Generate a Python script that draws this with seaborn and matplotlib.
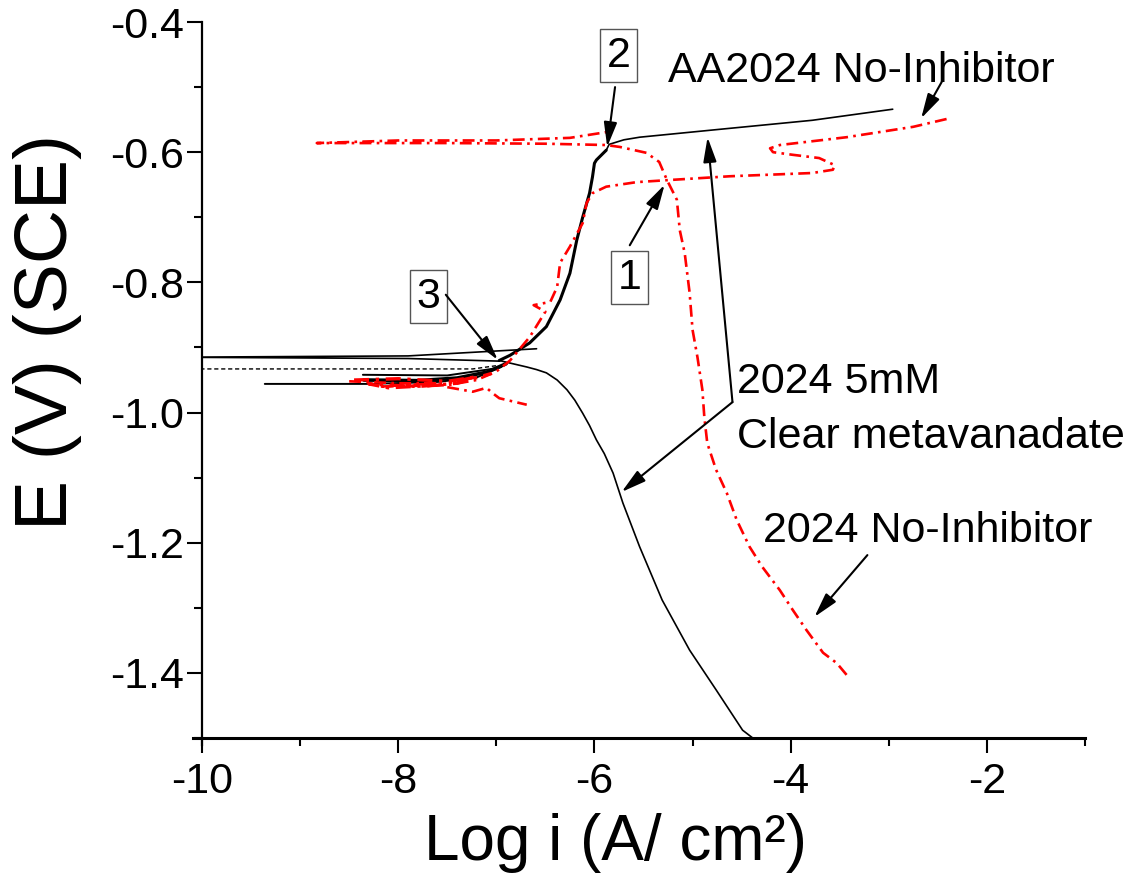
import matplotlib
matplotlib.use("Agg")
import matplotlib.pyplot as plt
import seaborn as sns
import pandas as pd

# AA2024 no inhibitor (red, dash-dot)
red_cath_x = [-3.43, -3.53, -3.67, -3.84, -3.98, -4.11, -4.29, -4.42, -4.55, -4.65, -4.76, -4.85, -4.88,
              -4.90, -4.95, -5.00, -5.03, -5.08, -5.13, -5.16, -5.26, -5.34, -5.47, -5.74, -5.88,
              -6.50, -7.50, -8.83, -8.00, -7.00, -6.25, -5.87]
red_cath_y = [-1.403, -1.385, -1.369, -1.334, -1.303, -1.273, -1.237, -1.206, -1.165, -1.124, -1.088, -1.047, -1.007,
              -0.965, -0.915, -0.873, -0.816, -0.755, -0.720, -0.673, -0.643, -0.615, -0.601, -0.592, -0.589,
              -0.587, -0.586, -0.586, -0.582, -0.582, -0.578, -0.569]

red_anod_x = [-8.50, -8.00, -7.60, -8.20, -7.50, -7.20, -7.00, -6.86, -6.66, -6.50, -6.62, -6.45, -6.38, -6.35,
              -6.25, -6.12, -6.08, -6.02, -5.88, -5.57, -5.26, -4.62, -3.78, -3.57, -3.55, -3.71, -3.98,
              -4.18, -4.21, -4.11, -3.43, -2.75, -2.41]
red_anod_y = [-0.952, -0.955, -0.955, -0.960, -0.958, -0.950, -0.937, -0.920, -0.884, -0.845, -0.835, -0.830, -0.807, -0.770,
              -0.745, -0.709, -0.678, -0.663, -0.653, -0.646, -0.643, -0.637, -0.632, -0.627, -0.620, -0.609, -0.604,
              -0.600, -0.594, -0.589, -0.577, -0.561, -0.549]

# dense noisy band of the red scan near -0.95 V
red_band_x = [-8.45, -8.00, -7.50, -7.20, -7.60, -8.10, -8.30, -7.80, -7.40, -7.05]
red_band_y = [-0.950, -0.948, -0.952, -0.945, -0.958, -0.962, -0.956, -0.960, -0.955, -0.940]

red_tail_x = [-7.50, -7.24, -7.10, -7.04, -6.97, -6.69]
red_tail_y = [-0.961, -0.968, -0.962, -0.970, -0.978, -0.988]

# AA2024 + 5mM clear metavanadate (black)
blk_cath_x = [-4.30, -4.49, -4.76, -5.03, -5.31, -5.54, -5.71, -5.81, -5.90, -5.98, -6.05, -6.12, -6.20,
              -6.28, -6.38, -6.49, -6.59, -6.69, -6.86, -6.97]
blk_cath_y = [-1.51, -1.488, -1.426, -1.365, -1.288, -1.206, -1.139, -1.093, -1.063, -1.042, -1.020, -1.001, -0.981,
              -0.965, -0.950, -0.939, -0.934, -0.930, -0.924, -0.920]

blk_rise_x = [-6.97, -6.86, -6.66, -6.49, -6.35, -6.25, -6.18, -6.12, -6.05, -6.02, -6.00, -5.98, -5.88]
blk_rise_y = [-0.920, -0.912, -0.893, -0.868, -0.827, -0.786, -0.735, -0.700, -0.663, -0.638, -0.617, -0.612, -0.597]

blk_top_x = [-5.88, -5.85, -5.70, -5.54, -4.80, -3.78, -2.96]
blk_top_y = [-0.597, -0.588, -0.581, -0.577, -0.566, -0.551, -0.534]

blk_ecorr_x = [-6.59, -7.90, -10.30, -7.90, -6.97]
blk_ecorr_y = [-0.902, -0.913, -0.915, -0.917, -0.921]

blk_low1_x = [-9.36, -8.30, -7.60, -7.20, -6.95]
blk_low1_y = [-0.956, -0.956, -0.953, -0.946, -0.930]
blk_low2_x = [-8.36, -7.50, -7.00]
blk_low2_y = [-0.942, -0.943, -0.932]
blk_low3_x = [-8.35, -7.80, -7.40, -7.10, -6.90]
blk_low3_y = [-0.950, -0.951, -0.947, -0.938, -0.925]

blk_dash_x = [-10.30, -7.24, -7.00]
blk_dash_y = [-0.933, -0.933, -0.928]

x_ticks = [-10, -8, -6, -4, -2]
y_ticks = [-0.4, -0.6, -0.8, -1.0, -1.2, -1.4]

sns.set_style("ticks")
plt.rcParams['font.family'] = ['Liberation Sans', 'DejaVu Sans']
plt.rcParams.update({"text.color": "black", "axes.labelcolor": "black", "axes.edgecolor": "black",
                     "xtick.color": "black", "ytick.color": "black"})

fig = plt.figure(figsize=(11.34, 8.84), dpi=100)
ax = fig.add_axes([202 / 1134, 1 - 738 / 884, 883 / 1134, 716 / 884])

red_dash = (0, (4.5, 2, 1, 2))


def draw(xs, ys, color, lw, ls="-"):
    df = pd.DataFrame({"x": xs, "y": ys})
    sns.lineplot(data=df, x="x", y="y", sort=False, estimator=None, color=color,
                 lw=lw, linestyle=ls, ax=ax)


draw(blk_cath_x, blk_cath_y, "black", 1.2)
draw(blk_rise_x, blk_rise_y, "black", 2.2)
draw(blk_top_x, blk_top_y, "black", 1.2)
draw(blk_ecorr_x, blk_ecorr_y, "black", 1.2)
draw(blk_low1_x, blk_low1_y, "black", 1.4)
draw(blk_low2_x, blk_low2_y, "black", 1.4)
draw(blk_low3_x, blk_low3_y, "black", 2.6)
draw(blk_dash_x, blk_dash_y, "black", 1.0, (0, (3, 2)))

draw(red_cath_x, red_cath_y, "red", 1.9, red_dash)
draw(red_anod_x, red_anod_y, "red", 1.9, red_dash)
draw(red_band_x, red_band_y, "red", 2.4, red_dash)
draw(red_tail_x, red_tail_y, "red", 1.9, red_dash)

ax.set_xlim(-10, -1)
ax.set_ylim(-1.5, -0.4)
ax.set_xticks(x_ticks)
ax.set_yticks(y_ticks)
ax.set_xticklabels([str(t) for t in x_ticks])
ax.set_yticklabels([f"{t:.1f}" for t in y_ticks])
ax.set_xticks([-9, -7, -5, -3, -1], minor=True)
ax.set_yticks([-0.5, -0.7, -0.9, -1.1, -1.3, -1.5], minor=True)
ax.tick_params(which="major", direction="out", length=11, width=1.5, labelsize=31, pad=2)
ax.tick_params(axis="x", which="major", pad=6)
ax.tick_params(which="minor", direction="out", length=6, width=1.5)
for s in ["top", "right"]:
    ax.spines[s].set_visible(False)
ax.spines["left"].set_linewidth(1.6)
ax.spines["bottom"].set_linewidth(2.2)
ax.spines["bottom"].set_bounds(-10.09, -1)
ax.spines["left"].set_bounds(-1.51, -0.4)

ax.set_xlabel("Log i (A/ cm\u00b2)", fontsize=46)
ax.set_ylabel("E (V) (SCE)", fontsize=54)
ax.xaxis.set_label_coords(0.468, -0.105)
ax.yaxis.set_label_coords(-0.136, 0.567)

txt = 31
box = dict(boxstyle="square,pad=0.15", fc="white", ec="#555555", lw=1)
arrow = dict(arrowstyle="-|>,head_length=1.5,head_width=0.4", color="black", lw=1.5, shrinkA=0, shrinkB=0)

ax.text(-5.754, -0.452, "2", fontsize=txt, ha="center", va="center", bbox=box)
ax.annotate("", xy=(-5.87, -0.592), xytext=(-5.79, -0.50), arrowprops=arrow)

ax.text(-5.64, -0.793, "1", fontsize=txt, ha="center", va="center", bbox=box)
ax.annotate("", xy=(-5.285, -0.650), xytext=(-5.64, -0.743), arrowprops=arrow)

ax.text(-7.69, -0.822, "3", fontsize=txt, ha="center", va="center", bbox=box)
ax.annotate("", xy=(-6.986, -0.919), xytext=(-7.515, -0.819), arrowprops=arrow)

ax.text(-5.255, -0.492, "AA2024 No-Inhibitor", fontsize=txt, ha="left", va="baseline")
ax.annotate("", xy=(-2.67, -0.548), xytext=(-2.46, -0.492), arrowprops=arrow)

ax.text(-4.552, -0.970, "2024 5mM", fontsize=txt, ha="left", va="baseline")
ax.text(-4.552, -1.054, "Clear metavanadate", fontsize=txt, ha="left", va="baseline")
ax.annotate("", xy=(-4.847, -0.577), xytext=(-4.593, -0.984), arrowprops=arrow)
ax.annotate("", xy=(-5.723, -1.122), xytext=(-4.593, -0.984), arrowprops=arrow)

ax.text(-4.287, -1.199, "2024 No-Inhibitor", fontsize=txt, ha="left", va="baseline")
ax.annotate("", xy=(-3.758, -1.314), xytext=(-3.218, -1.219), arrowprops=arrow)

fig.savefig("out.png", dpi=100)
